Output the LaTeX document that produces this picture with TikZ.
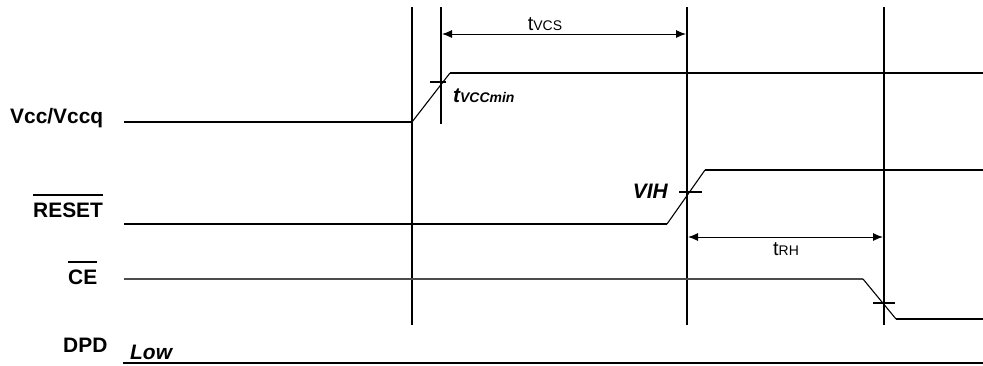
\documentclass[tikz,border=0pt]{standalone}
\usepackage{fontspec}
\setmainfont{Liberation Sans}
\usetikzlibrary{arrows,arrows.meta,calc}
\usetikzlibrary{positioning}

\begin{document}
\begin{tikzpicture}[x=1bp,y=-1bp]
\useasboundingbox (0,0) rectangle (983,365);

%STYLES
\tikzstyle{sig}=[line width=2.1bp]
\tikzstyle{ramp}=[line width=1.1bp]
\tikzstyle{grid}=[line width=2.2bp]
\tikzstyle{dim}=[line width=1bp,<->,>={Latex[length=10bp,width=8bp]}]
\tikzstyle{lbl}=[inner sep=0pt,anchor=base west,font=\fontsize{21}{24}\selectfont\bfseries]
\tikzstyle{note}=[inner sep=0pt,anchor=base west,font=\fontsize{21}{24}\selectfont\bfseries\itshape]
\tikzstyle{tim}=[inner sep=0pt,anchor=base,font=\fontsize{20}{22}\selectfont]

%%%%%%%%%%%%%%%%%%%%%%%%%%%%%%%%%%%%%%%%%%%%%%%%%%%%%%%%%%%%%%
%GRID
\coordinate (g1top) at (412,7);
\coordinate (g1bot) at (412,325);
\coordinate (g2top) at (441,7);
\coordinate (g2bot) at (441,124);
\coordinate (g3top) at (687,7);
\coordinate (g3bot) at (687,325);
\coordinate (g4top) at (884,7);
\coordinate (g4bot) at (884,325);
\draw[grid] (g1top) -- (g1bot);
\draw[grid] (g2top) -- (g2bot);
\draw[grid] (g3top) -- (g3bot);
\draw[grid] (g4top) -- (g4bot);

%%%%%%%%%%%%%%%%%%%%%%%%%%%%%%%%%%%%%%%%%%%%%%%%%%%%%%%%%%%%%%
%LABELS
\node[lbl] (vcc) at (10,123) {Vcc/Vccq};
\node[lbl] (reset) at (33,217) {RESET};
\node[lbl] (ce) at (68,284) {CE};
\node[lbl] (dpd) at (63,352) {DPD};
\draw[sig] ([yshift=7bp]reset.north west) -- ([yshift=7bp]reset.north east);
\draw[sig] ([yshift=7bp]ce.north west) -- ([yshift=7bp]ce.north east);

%%%%%%%%%%%%%%%%%%%%%%%%%%%%%%%%%%%%%%%%%%%%%%%%%%%%%%%%%%%%%%
%Vcc
\coordinate (vcc0) at (124,122);
\coordinate (vcc1) at (412,122);
\coordinate (vcc2) at (450,73);
\coordinate (vcc3) at (983,73);
\draw[sig] (vcc0) -- (vcc1);
\draw[ramp] (vcc1) -- (vcc2);
\draw[sig] (vcc2) -- (vcc3);
\coordinate (vccTa) at (430,82);
\coordinate (vccTb) at (446,82);
\draw[sig] (vccTa) -- (vccTb);
\node[note] (tvccmin) at (453,102) {t{\fontsize{14}{16}\selectfont VCCmin}};

%RESET
\coordinate (rst0) at (124,224);
\coordinate (rst1) at (667,224);
\coordinate (rst2) at (705,170);
\coordinate (rst3) at (983,170);
\draw[sig] (rst0) -- (rst1);
\draw[ramp] (rst1) -- (rst2);
\draw[sig] (rst2) -- (rst3);
\coordinate (rstTa) at (679,192);
\coordinate (rstTb) at (702,192);
\draw[sig] (rstTa) -- (rstTb);
\node[note,anchor=base east] (vih) at (668,198) {VIH};

%CE
\coordinate (ce0) at (124,279);
\coordinate (ce1) at (863,279);
\coordinate (ce2) at (896,319);
\coordinate (ce3) at (983,319);
\draw[sig,black!70] (ce0) -- (ce1);
\draw[ramp] (ce1) -- (ce2);
\draw[sig] (ce2) -- (ce3);
\coordinate (ceTa) at (873,303);
\coordinate (ceTb) at (895,303);
\draw[sig] (ceTa) -- (ceTb);

%DPD
\coordinate (dpd0) at (123,363);
\coordinate (dpd1) at (983,363);
\draw[sig] (dpd0) -- (dpd1);
\node[note] (low) at (130,359) {Low};

%%%%%%%%%%%%%%%%%%%%%%%%%%%%%%%%%%%%%%%%%%%%%%%%%%%%%%%%%%%%%%
%TIMINGS
\coordinate (tvcsA) at (442,34);
\coordinate (tvcsB) at (686,34);
\draw[dim] (tvcsA) -- (tvcsB);
\node[tim] (tvcs) at (545,30) {t{\fontsize{14}{16}\selectfont VCS}};

\coordinate (trhA) at (688,237);
\coordinate (trhB) at (883,237);
\draw[dim] (trhA) -- (trhB);
\node[tim] (trh) at (786,255) {t{\fontsize{14}{16}\selectfont RH}};
\end{tikzpicture}
\end{document}
